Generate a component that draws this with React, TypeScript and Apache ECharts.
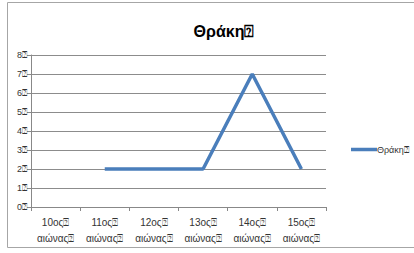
import React, { useEffect, useRef } from "react";
import * as echarts from "echarts";

const MARK = "\u2370";
const categories = ["10ος", "11ος", "12ος", "13ος", "14ος", "15ος"];
const seriesName = "Θράκη";
const values: (number | null)[] = [null, 2, 2, 2, 7, 2];
const yTicks = [0, 1, 2, 3, 4, 5, 6, 7, 8];

const FONT = "'Liberation Sans', Arial, sans-serif";

export default function App() {
  const ref = useRef<HTMLDivElement>(null);
  useEffect(() => {
    const chart = echarts.init(ref.current!, null, { renderer: "svg" });
    chart.setOption({
      animation: false,
      backgroundColor: "#ffffff",
      textStyle: { fontFamily: FONT },
      title: {
        text: seriesName + MARK,
        left: 219,
        top: 18,
        textAlign: "center",
        textStyle: { fontFamily: FONT, fontSize: 16, fontWeight: "bold", color: "#000" },
      },
      graphic: [
        {
          type: "rect",
          shape: { x: 7.5, y: 2.5, width: 420, height: 245 },
          style: { fill: "none", stroke: "#a6a6a6", lineWidth: 1 },
          silent: true,
        },
      ],
      legend: {
        left: 346,
        top: 140,
        itemWidth: 26,
        itemHeight: 12,
        itemGap: 0,
        data: [{ name: seriesName, icon: "path://M0,0 L26,0 L26,3.5 L0,3.5 Z" }],
        formatter: (n: string) => n + MARK,
        inactiveColor: "#333",
        textStyle: { fontFamily: FONT, fontSize: 9, color: "#333333", padding: [0, 0, 0, -5] },
      },
      grid: { left: 31, top: 55, right: 88, bottom: 46, containLabel: false },
      xAxis: {
        type: "category",
        data: categories,
        boundaryGap: true,
        axisLine: { lineStyle: { color: "#888", width: 1 } },
        axisTick: { show: true, length: 4, inside: false, alignWithLabel: false, lineStyle: { color: "#888" } },
        axisLabel: {
          interval: 0,
          fontFamily: FONT,
          fontSize: 10,
          color: "#333",
          lineHeight: 16,
          margin: 7,
          formatter: (v: string) => v + MARK + "\nαιώνας" + MARK,
        },
      },
      yAxis: {
        type: "value",
        min: 0,
        max: 8,
        interval: 1,
        axisLine: { show: true, lineStyle: { color: "#888", width: 1 } },
        axisTick: { show: true, length: 4, lineStyle: { color: "#888" } },
        splitLine: { show: true, lineStyle: { color: "#8c8c8c", width: 1 } },
        axisLabel: {
          fontFamily: FONT,
          fontSize: 9,
          color: "#333",
          margin: 4,
          formatter: (v: number) => (yTicks.includes(v) ? v + MARK : ""),
        },
      },
      series: [
        {
          name: seriesName,
          type: "line",
          data: values,
          symbol: "none",
          connectNulls: false,
          lineStyle: { color: "#4a7ebb", width: 3.5 },
          itemStyle: { color: "#4a7ebb" },
        },
      ],
    });
    return () => chart.dispose();
  }, []);
  return (
    <div
      ref={ref}
      style={{ position: "fixed", left: 0, top: 0, width: 414, height: 253, background: "#fff" }}
    />
  );
}
